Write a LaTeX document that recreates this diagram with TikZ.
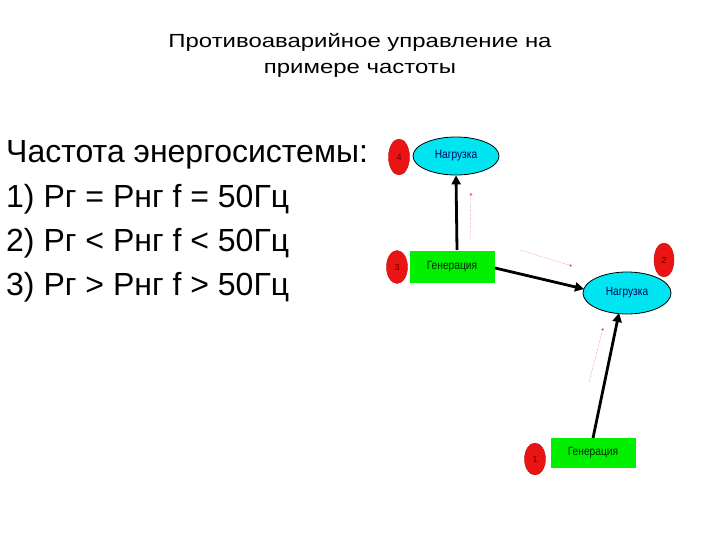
\documentclass[tikz,border=0pt]{standalone}
\usepackage{fontspec}
\setmainfont{Liberation Sans}
\usetikzlibrary{arrows.meta,shapes.geometric}
\definecolor{cyanfill}{RGB}{0,230,240}
\definecolor{greenfill}{RGB}{0,240,0}
\definecolor{redfill}{RGB}{235,20,20}
\begin{document}
\begin{tikzpicture}[x=1pt,y=-1pt,
  load/.style={ellipse,draw=black,line width=0.8pt,fill=cyanfill,minimum width=86pt,minimum height=38pt,inner sep=0pt,font=\fontsize{12}{13}\selectfont,text=black!60!blue},
  gen/.style={rectangle,draw=none,fill=greenfill,minimum width=85pt,minimum height=32pt,inner sep=0pt,font=\fontsize{12}{13}\selectfont,text=black!85!green},
  num/.style={ellipse,fill=redfill,draw=redfill!80!black,minimum width=21pt,minimum height=36pt,inner sep=0pt,font=\fontsize{9}{10}\selectfont,text=red!35!black},
  bigarrow/.style={line width=2.8pt,-{Triangle[length=9pt,width=9pt]}},
  hint/.style={draw=red!30,line width=0.5pt,dash pattern=on 3pt off 1pt,-{Circle[length=3pt,fill=red]}},
  bigtext/.style={anchor=west,font=\fontsize{32}{34}\selectfont,inner sep=0pt}]
\useasboundingbox (0,0) rectangle (720,540);
% title
\node[font=\fontsize{19}{20}\selectfont,inner sep=0pt] (title1) at (360,42) {\scalebox{1.26}[1]{Противоаварийное управление на}};
\node[font=\fontsize{19}{20}\selectfont,inner sep=0pt] (title2) at (360,70) {\scalebox{1.26}[1]{примере частоты}};
% left text
\node[bigtext] (t0) at (6,155) {Частота энергосистемы:};
\node[bigtext] (t1) at (6,199) {1) Рг = Рнг f = 50Гц};
\node[bigtext] (t2) at (6,243) {2) Рг < Рнг f < 50Гц};
\node[bigtext] (t3) at (6,287) {3) Рг > Рнг f > 50Гц};
% diagram
\node[load] (n1) at (456,156) {\scalebox{0.85}[1]{Нагрузка}};
\node[num] (c4) at (399,157) {4};
\node[gen] (g1) at (452,267) {\scalebox{0.85}[1]{Генерация}};
\node[num,minimum height=33pt] (c3) at (397,267) {3};
\node[load,minimum width=88pt,minimum height=42pt] (n2) at (627,293) {\scalebox{0.85}[1]{Нагрузка}};
\node[num,minimum width=20pt,minimum height=34pt] (c2) at (664,260) {2};
\node[gen,minimum height=30pt] (g2) at (593,453) {\scalebox{0.85}[1]{Генерация}};
\node[num,minimum height=32pt] (c1) at (535,459) {1};
% connectors
\coordinate (g1top) at (457,250);
\draw[bigarrow] (g1top) -- (n1.south);
\coordinate (g1right) at (495,268);
\coordinate (n2left) at (584,289);
\draw[bigarrow] (g1right) -- (n2left);
\coordinate (g2top) at (593,438);
\coordinate (n2bot) at (619,313);
\draw[bigarrow] (g2top) -- (n2bot);
% hints
\coordinate (h1a) at (470,240); \coordinate (h1b) at (471,193);
\draw[hint] (h1a) -- (h1b);
\coordinate (h2a) at (520,250); \coordinate (h2b) at (572,266);
\draw[hint] (h2a) -- (h2b);
\coordinate (h3a) at (589,382); \coordinate (h3b) at (603,328);
\draw[hint] (h3a) -- (h3b);
\end{tikzpicture}
\end{document}
